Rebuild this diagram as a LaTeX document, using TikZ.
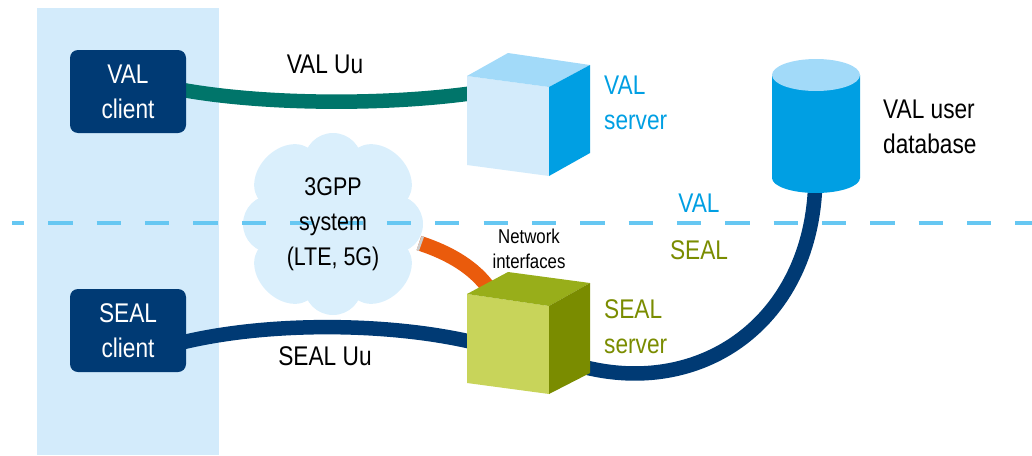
\documentclass[tikz,border=0pt]{standalone}
\usepackage{fontspec}
\setmainfont[FakeStretch=.84]{Liberation Sans}
\definecolor{panelblue}{HTML}{D3EBFB}
\definecolor{cloudblue}{HTML}{DAEFFC}
\definecolor{dashblue}{HTML}{66C7F2}
\definecolor{darkblue}{HTML}{003A74}
\definecolor{teal}{HTML}{00756A}
\definecolor{orangeline}{HTML}{EA5B0C}
\definecolor{midblue}{HTML}{009FE3}
\definecolor{lightblue}{HTML}{A2DAF9}
\definecolor{oliveside}{HTML}{7A8C00}
\definecolor{olivetop}{HTML}{98AE1A}
\definecolor{olivefront}{HTML}{C8D45A}
\tikzset{
	txt/.style={align=center, inner sep=0pt, font=\fontsize{27}{35}\selectfont},
	txtleft/.style={txt, align=left, anchor=west},
	client/.style={txt, fill=darkblue, text=white, rounded corners=8pt, minimum width=116pt, minimum height=83pt}
}
\begin{document}
\begin{tikzpicture}[x=1pt, y=-1pt, line join=round]
	\useasboundingbox (0,0) rectangle (1032,455);
	\fill[panelblue] (37,8) rectangle (219,455);
	% cloud
	\fill[cloudblue] (333,224) circle (72);
	\foreach \cx/\cy/\r in {333/162/29, 333/286/29, 272/224/29, 394/224/29}
		\fill[cloudblue] (\cx,\cy) circle (\r);
	\foreach \cx/\cy/\a in {286/176/-45, 380/176/45, 286/272/45, 380/272/-45}
		\fill[cloudblue] (\cx,\cy) [rotate around={\a:(\cx,\cy)}] ellipse (27 and 36);
	\draw[dashblue, line width=4pt, dash pattern=on 24.3pt off 24.05pt, dash phase=12pt] (12,223)--(1032,223);
	% names
	\coordinate (valport) at (180,89.5);
	\coordinate (sealport) at (180,343);
	\coordinate (valcube) at (470,93.5);
	\coordinate (sealcube) at (472,342);
	\coordinate (sealcubetop) at (490,290);
	\coordinate (sealcuberight) at (588,368);
	\coordinate (cloudedge) at (419,243);
	\coordinate (dbase) at (815,190);
	% links
	\draw[teal, line width=14.5pt] (valport) ..controls (265,105) and (385,105) .. (valcube);
	\draw[darkblue, line width=14.5pt] (sealport) ..controls (265,322) and (385,322) .. (sealcube);
	\draw[orangeline, line width=15pt] (cloudedge) ..controls (450,253) and (475,268) .. (sealcubetop);
	\draw[black!20, line width=15pt] (cloudedge) -- ++(2.5,.9);
	\draw[darkblue, line width=14.5pt] (dbase) ..controls (808,320) and (705,395) .. (sealcuberight);
	\node[client] (valclient) at (128,91.5) {VAL\\client};
	\node[client] (sealclient) at (128,330.5) {SEAL\\client};
	% VAL cube
	\fill[panelblue] (467,76)--(549,87)--(549,176)--(467,165)--cycle;
	\fill[lightblue] (467,76)--(508,53)--(590,65)--(549,87)--cycle;
	\fill[midblue] (549,87)--(590,65)--(590,153)--(549,176)--cycle;
	% SEAL cube
	\fill[olivefront] (467,294)--(549,306)--(549,394)--(467,383)--cycle;
	\fill[olivetop] (467,294)--(508,272)--(590,283)--(549,306)--cycle;
	\fill[oliveside] (549,306)--(590,283)--(590,373)--(549,394)--cycle;
	% database
	\fill[midblue] (772,75) -- (772,178) arc[start angle=180, end angle=360, x radius=44, y radius=-15] -- (860,75) -- cycle;
	\fill[lightblue] (816,75) ellipse (44 and 16);
	% texts
	\node[txt] (valuu) at (325,64) {VAL Uu};
	\node[txt] (sealuu) at (325,356) {SEAL Uu};
	\node[txt, font=\fontsize{25.5}{35}\selectfont] (cloudtxt) at (333,224) {3GPP\\system\\(LTE, 5G)};
	\node[txtleft, text=midblue] (valsrv) at (604,103) {VAL\\server};
	\node[txtleft, text=oliveside] (sealsrv) at (604,327) {SEAL\\server};
	\node[txtleft] (dbtxt) at (883,127) {VAL user\\database};
	\node[txt, text=midblue] (vallayer) at (699,203) {VAL};
	\node[txt, text=oliveside] (seallayer) at (699,250) {SEAL};
	\node[txt, font=\fontsize{20}{25}\selectfont] (netif) at (529,249) {Network\\interfaces};
\end{tikzpicture}
\end{document}
